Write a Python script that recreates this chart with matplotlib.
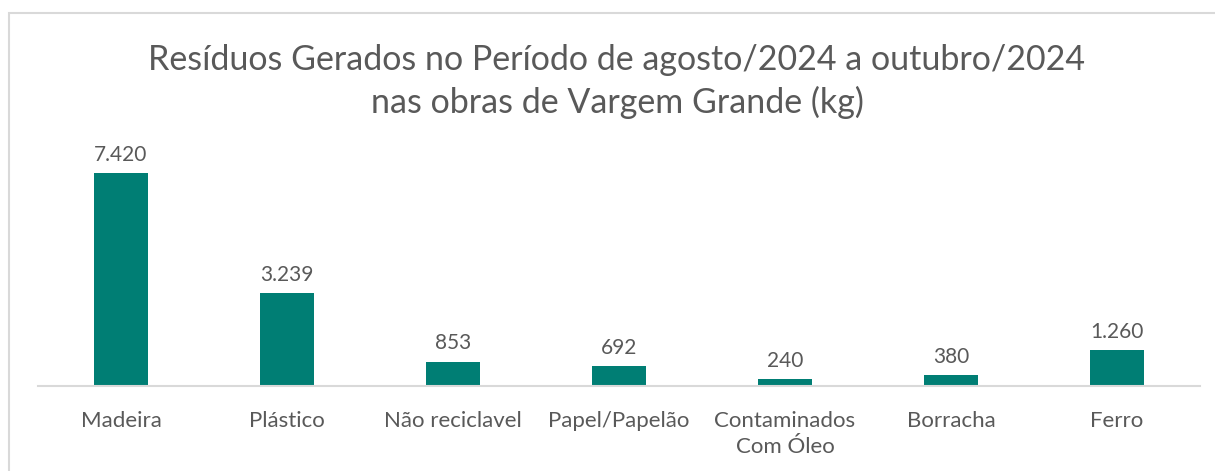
import matplotlib
matplotlib.use("Agg")
import matplotlib.pyplot as plt
from matplotlib.patches import Rectangle

# residuos por tipo, em kg
categorias = ["Madeira", "Plástico", "Não reciclavel", "Papel/Papelão",
              "Contaminados\nCom Óleo", "Borracha", "Ferro"]
pesos = [7420, 3239, 853, 692, 240, 380, 1260]
rotulos = ["7.420", "3.239", "853", "692", "240", "380", "1.260"]

titulo = "Resíduos Gerados no Período de agosto/2024 a outubro/2024\nnas obras de Vargem Grande (kg)"

plt.rcParams["font.family"] = ["Lato", "DejaVu Sans"]
cinza = "#595959"
verde = "#007E74"

W, H = 1215, 471
fig = plt.figure(figsize=(W / 100, H / 100), dpi=100)

# moldura do grafico
fig.patches.append(Rectangle((9 / W, -0.1), 1.2, (H - 13) / H + 0.1,
                             transform=fig.transFigure, fill=False,
                             edgecolor="#D9D9D9", linewidth=1.5))

ax = fig.add_axes([38 / W, 85 / H, 1162 / W, 229.6 / H])
x = range(len(categorias))
ax.bar(x, pesos, width=0.325, color=verde)

for i, (v, r) in enumerate(zip(pesos, rotulos)):
    ax.annotate(r, (i, v), xytext=(0, 6), textcoords="offset points",
                ha="center", va="bottom", fontsize=15, color=cinza)

ax.set_xlim(-0.5, len(categorias) - 0.5)
ax.set_ylim(0, 8000)
ax.set_xticks(list(x))
ax.set_xticklabels(categorias, fontsize=16, color=cinza, linespacing=1.4)
ax.tick_params(axis="x", length=0, pad=18)
ax.set_yticks([])
for s in ["top", "right", "left"]:
    ax.spines[s].set_visible(False)
ax.spines["bottom"].set_color("#D9D9D9")
ax.spines["bottom"].set_linewidth(1.5)

fig.text(617 / W, 1 - 44 / H, titulo, ha="center", va="top",
         fontsize=24.5, color=cinza, linespacing=1.35)

fig.savefig("out.png", dpi=100)
